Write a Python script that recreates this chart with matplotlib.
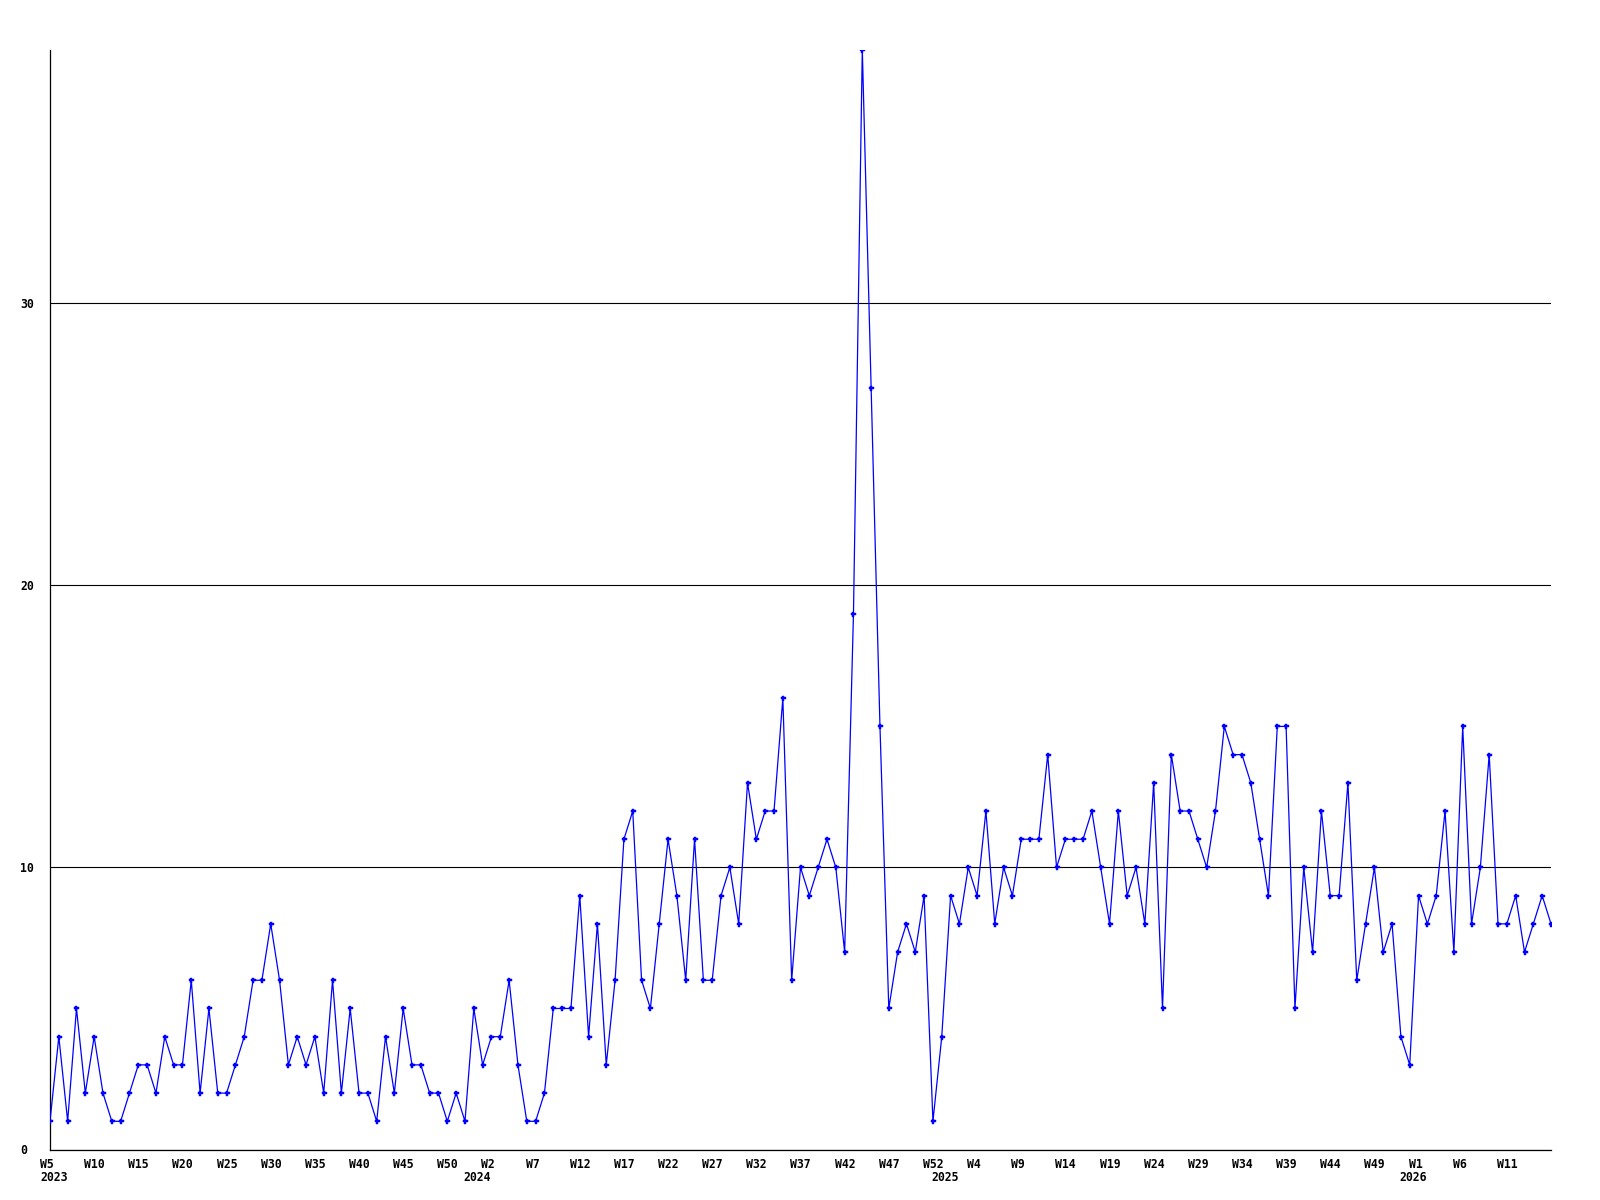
import numpy as np
import matplotlib
matplotlib.use("Agg")
import matplotlib.pyplot as plt
from matplotlib.transforms import ScaledTranslation

# ---- data ----
years = ["2023", "2024", "2025", "2026"]
first_week = [5, 0, 0, 0]
last_week = [52, 52, 52, 16]

values = [
    1, 4, 1, 5, 2, 4, 2, 1, 1, 2, 3, 3, 2, 4, 3, 3, 6, 2, 5, 2, 2, 3, 4, 6, 6, 8, 6, 3, 4, 3, 4, 2,
    6, 2, 5, 2, 2, 1, 4, 2, 5, 3, 3, 2, 2, 1, 2, 1, 5, 3, 4, 4, 6, 3, 1, 1, 2, 5, 5, 5,
    9, 4, 8, 3, 6, 11, 12, 6, 5, 8, 11, 9, 6, 11, 6, 6, 9, 10, 8, 13, 11, 12, 12, 16, 6, 10, 9, 10,
    11, 10, 7, 19, 39, 27, 15, 5, 7, 8,
    7, 9, 1, 4, 9, 8, 10, 9, 12, 8, 10, 9, 11, 11, 11, 14, 10, 11, 11, 11, 12, 10, 8, 12, 9, 10, 8,
    13, 5, 14, 12, 12,
    11, 10, 12, 15, 14, 14, 13, 11, 9, 15, 15, 5, 10, 7, 12, 9, 9, 13, 6, 8, 10, 7, 8, 4, 3, 9, 8,
    9, 12, 7, 15, 8, 10, 14, 8, 8, 9, 7, 8, 9, 8,
]
y_ticks = [0, 10, 20, 30]

# categories (year, week) for every point
cats = []
for yr, w0, w1 in zip(years, first_week, last_week):
    for w in range(w0, w1 + 1):
        cats.append((yr, w))

n = len(values)
x = np.arange(n)

font = dict(family="DejaVu Sans Mono", weight="bold", size=8.3)

fig = plt.figure(figsize=(16, 12), dpi=100)
W, H = 1600, 1200
ax = fig.add_axes([50 / W, 50.5 / H, 1501 / W, 1100 / H])

ax.plot(x, values, color="#0000ff", lw=0.9, marker="P", ms=3.6,
        mec="#0000ff", mfc="#0000ff", mew=0.3, zorder=3)

ax.set_xlim(0, n - 1)
ax.set_ylim(0, 39)

for s in ("top", "right"):
    ax.spines[s].set_visible(False)
for s in ("left", "bottom"):
    ax.spines[s].set_color("black")
    ax.spines[s].set_linewidth(0.9)

# y axis
ax.set_yticks(y_ticks)
ax.set_yticklabels([str(v) for v in y_ticks], **font)
ax.yaxis.grid(True, color="black", lw=0.8)
ax.xaxis.grid(False)
ax.set_axisbelow(True)
ax.tick_params(axis="y", length=0, pad=21.6)
for lbl in ax.get_yticklabels():
    lbl.set_horizontalalignment("left")

# x axis: week labels every 5 points, year labels at first point of each year
major_pos = list(range(0, n - 1, 5))
major_lbl = ["W%d" % cats[i][1] for i in major_pos]
year_pos = [i for i in range(n) if i == 0 or cats[i][0] != cats[i - 1][0]]
year_lbl = [cats[i][0] for i in year_pos]

ax.xaxis.remove_overlapping_locs = False
ax.set_xticks(major_pos)
ax.set_xticklabels(major_lbl, **font)
ax.set_xticks(year_pos, minor=True)
ax.set_xticklabels(year_lbl, minor=True, **font)
ax.tick_params(axis="x", which="major", length=0, pad=5.8)
ax.tick_params(axis="x", which="minor", length=0, pad=15.8)

off = ScaledTranslation(-10 / 100, 0, fig.dpi_scale_trans)
for lbl in ax.get_xticklabels(which="both"):
    lbl.set_horizontalalignment("left")
    lbl.set_transform(lbl.get_transform() + off)

fig.savefig("out.png", dpi=100, facecolor="white")
